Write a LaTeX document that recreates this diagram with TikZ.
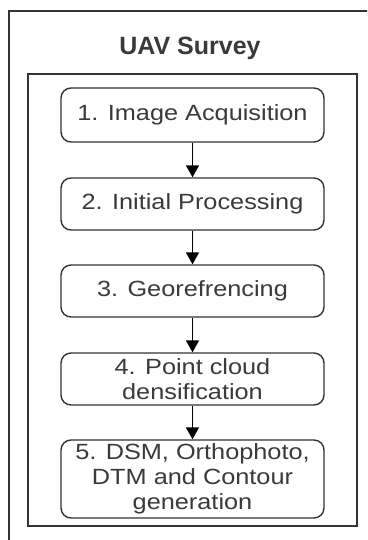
\documentclass[tikz,border=0pt]{standalone}
\usepackage{fontspec}
\setmainfont{Liberation Sans}
\newfontfamily\boxfont[FakeStretch=1.15]{Liberation Sans}
\newfontfamily\titlefont{Liberation Sans}
\usetikzlibrary{arrows.meta}
\definecolor{txt}{HTML}{3A3A3A}
\definecolor{edge}{HTML}{333333}
\tikzset{
  stepbox/.style={draw=edge, line width=1.4pt, rounded corners=10pt, minimum width=263pt,
    align=center, text=txt, font=\boxfont\fontsize{22}{25}\selectfont, inner sep=0pt},
  flowarrow/.style={-{Triangle[width=13pt,length=12pt]}, line width=1.8pt, black},
  frame/.style={draw=edge, line width=1.6pt}
}
\begin{document}
\begin{tikzpicture}[x=1pt,y=-1pt]
\useasboundingbox (0,0) rectangle (367,540);
\clip (0,0) rectangle (367,540);
\fill[white] (0,0) rectangle (367,540);
\draw[frame] (9,11) rectangle (380,552);
\node[font=\titlefont\bfseries\fontsize{25}{28}\selectfont, text=txt] (title) at (190,48) {UAV Survey};
\draw[frame, line width=2pt] (28,74) rectangle (357,526);
\node[stepbox, minimum height=54pt] (b1) at (192.5,115) {1. Image Acquisition};
\node[stepbox, minimum height=52pt] (b2) at (192.5,204) {2. Initial Processing};
\node[stepbox, minimum height=52pt] (b3) at (192.5,291) {3. Georefrencing};
\node[stepbox, minimum height=52pt] (b4) at (192.5,379) {4. Point cloud\\densification};
\node[stepbox, minimum height=78pt] (b5) at (192.5,479) {5. DSM, Orthophoto,\\DTM and Contour\\generation};
\draw[flowarrow] (b1) -- (b2);
\draw[flowarrow] (b2) -- (b3);
\draw[flowarrow] (b3) -- (b4);
\draw[flowarrow] (b4) -- (b5);
\end{tikzpicture}
\end{document}
